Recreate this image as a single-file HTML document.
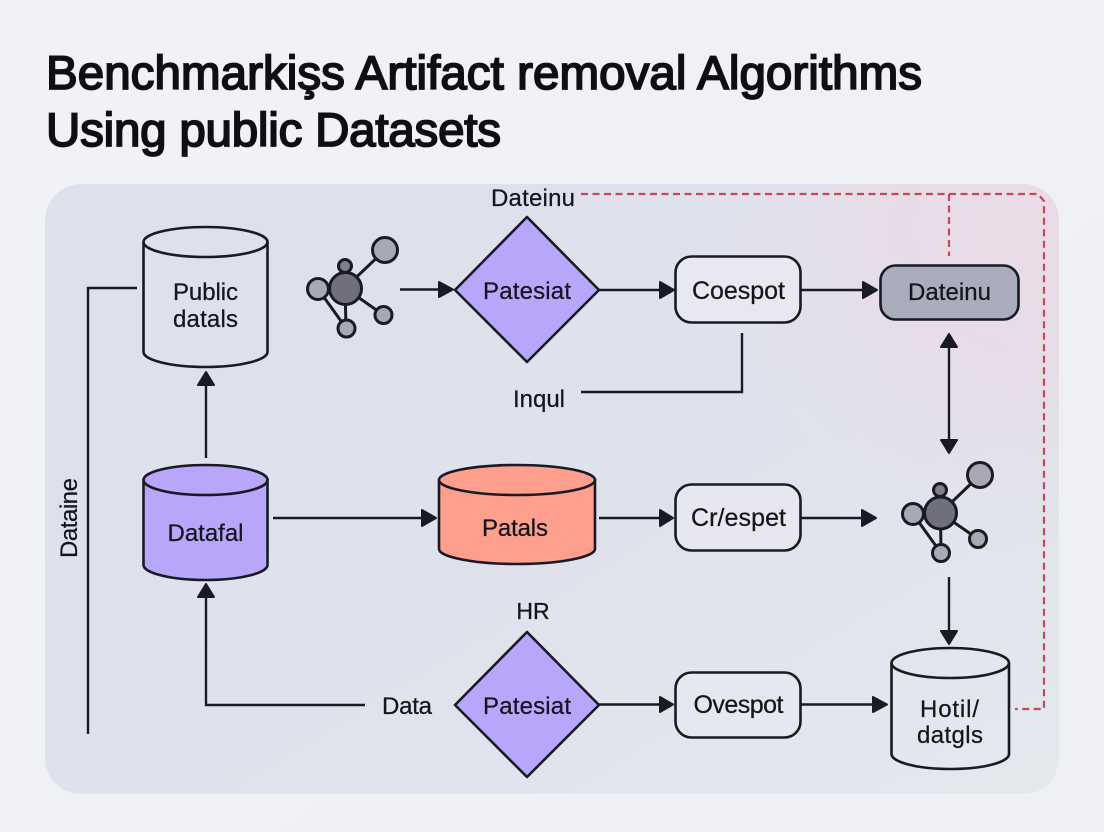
<!DOCTYPE html>
<html lang="en">
<head>
<meta charset="utf-8">
<title>Benchmarking Artifact Removal Algorithms</title>
<style>
html,body{margin:0;padding:0;width:1104px;height:832px;overflow:hidden;background:#eff1f5}
svg{display:block}
text{font-family:"Liberation Sans",sans-serif;fill:#15151f}
.t{font-size:47.5px;font-weight:400;fill:#0e0e14;stroke:#0e0e14;stroke-width:1.8}
.l{font-size:24px;text-anchor:middle;stroke:#15151f;stroke-width:.25}
.w{font-size:25px}
.s{fill:none;stroke:#191a26;stroke-width:2.6;stroke-linejoin:round}
.c{fill:none;stroke:#191a26;stroke-width:2.4}
.h{fill:#191a26;stroke:#191a26;stroke-width:2;stroke-linejoin:round}
.d{fill:none;stroke:#c4475c;stroke-width:2.2;stroke-dasharray:7 4.500}
.n{stroke:#191a26;stroke-width:3}
</style>
</head>
<body>
<svg width="1104" height="832" viewBox="0 0 1104 832" xmlns="http://www.w3.org/2000/svg">
<defs>
<linearGradient id="bg" x1="0" y1="0" x2="1" y2="1">
<stop offset="0" stop-color="#f1f2f6"/><stop offset="1" stop-color="#eef0f4"/>
</linearGradient>
<linearGradient id="panel" x1="0" y1="0" x2="1" y2="1">
<stop offset="0" stop-color="#dee0eb"/><stop offset=".55" stop-color="#dfe2ec"/><stop offset="1" stop-color="#e5e8ed"/>
</linearGradient>
<radialGradient id="pink" gradientUnits="userSpaceOnUse" cx="1030" cy="230" r="320">
<stop offset="0" stop-color="#ebdbe7" stop-opacity="1"/><stop offset=".5" stop-color="#e7dce7" stop-opacity=".8"/><stop offset="1" stop-color="#e4e0ea" stop-opacity="0"/>
</radialGradient>
</defs>

<rect width="1104" height="832" fill="url(#bg)"/>
<rect x="45" y="184" width="1014" height="610" rx="36" fill="url(#panel)"/>
<rect x="45" y="184" width="1014" height="610" rx="36" fill="url(#pink)"/>

<text class="t" x="46" y="89" textLength="876" lengthAdjust="spacing">Benchmarkişs Artifact removal Algorithms</text>
<text class="t" x="46" y="146" textLength="455" lengthAdjust="spacing">Using public Datasets</text>

<!-- dashed red -->
<path class="d" d="M581 194H1038L1044 201V709H1015"/>
<path class="d" d="M949 194V256"/>

<!-- left line -->
<path class="c" d="M137 288H88V734"/>
<text class="l" transform="translate(77 518) rotate(-90)" textLength="80" lengthAdjust="spacing">Dataine</text>

<!-- Public datals -->
<path class="s" d="M143.500 242V352C143.500 360 171 367 205.500 367S267.500 360 267.500 352V242"/>
<ellipse class="s" cx="205.500" cy="242" rx="62" ry="15"/>
<text class="l" x="205.500" y="300" textLength="65" lengthAdjust="spacing">Public</text>
<text class="l" x="205.500" y="327" textLength="65" lengthAdjust="spacing">datals</text>

<!-- Network 1 -->
<g class="n">
<path d="M345 288L385 250M345 288L383.500 315M318 289L346 328M345 288L346 328" fill="none"/>
<circle cx="385" cy="250" r="12.500" fill="#a9a9b5"/>
<circle cx="345" cy="266" r="6.500" fill="#80808c"/>
<circle cx="383.500" cy="315" r="8.500" fill="#a9a9b5"/>
<circle cx="346.500" cy="328.500" r="8.500" fill="#a9a9b5"/>
<circle cx="318" cy="289" r="10.500" fill="#a9a9b5"/>
<circle cx="345.500" cy="288.500" r="16" fill="#6f707c"/>
</g>

<!-- Row 1 -->
<path class="c" d="M400 289.500H440"/>
<path class="h" d="M453 289.500L439 282V297Z"/>
<polygon class="s" points="527,217 599,290 527,362 455,290" style="fill:#b8a6fb"/>
<text class="l" x="527" y="299" textLength="88" lengthAdjust="spacing">Patesiat</text>
<text class="l" x="533" y="206" textLength="84" lengthAdjust="spacing">Dateinu</text>
<path class="c" d="M599 290H660"/>
<path class="h" d="M674 290L660 282V298Z"/>
<rect class="s" x="675.500" y="256.500" width="125" height="66" rx="16" style="fill:#e8e8f0"/>
<text class="l w" x="738.500" y="299" textLength="93" lengthAdjust="spacing">Coespot</text>
<path class="c" d="M801 290H864"/>
<path class="h" d="M877 290L863 282V298Z"/>
<rect class="s" x="880.500" y="265.500" width="138" height="54" rx="15" style="fill:#a9acba"/>
<text class="l" x="949.500" y="300" textLength="83" lengthAdjust="spacing">Dateinu</text>

<!-- Inqul -->
<path class="c" d="M742 333V392H581"/>
<text class="l" x="539" y="407" textLength="52" lengthAdjust="spacing">Inqul</text>

<!-- Double arrow -->
<path class="c" d="M949 346V442"/>
<path class="h" d="M949 334L941 347H957Z"/>
<path class="h" d="M949 453L941 440H957Z"/>

<!-- Datafal -> Public -->
<path class="c" d="M206 458V384"/>
<path class="h" d="M206 372L198 385H214Z"/>

<!-- Datafal -->
<path d="M143.500 480V565C143.500 573 171 580 205.500 580S267.500 573 267.500 565V480Z" fill="#b8a6fb" stroke="#191a26" stroke-width="2.600"/>
<ellipse class="s" cx="205.500" cy="480" rx="62" ry="15" style="fill:#b8a6fb"/>
<text class="l" x="205.500" y="541" textLength="76" lengthAdjust="spacing">Datafal</text>

<!-- row 2 -->
<path class="c" d="M273 518H424"/>
<path class="h" d="M436 518L422 510V526Z"/>
<path d="M439 480V549C439 557 474 564 517 564S595 557 595 549V480Z" fill="#fd9f8c" stroke="#191a26" stroke-width="2.600"/>
<ellipse class="s" cx="517" cy="480" rx="78" ry="15" style="fill:#fd9f8c"/>
<text class="l" x="515" y="536" textLength="66" lengthAdjust="spacing">Patals</text>
<path class="c" d="M599 518H660"/>
<path class="h" d="M673 518L660 510V526Z"/>
<rect class="s" x="675.500" y="484.500" width="125" height="66" rx="16" style="fill:#e6e7ef"/>
<text class="l w" x="738.500" y="526" textLength="95" lengthAdjust="spacing">Cr/espet</text>
<path class="c" d="M801 518H864"/>
<path class="h" d="M876 518L862 510V526Z"/>

<!-- Network 2 -->
<g class="n">
<path d="M940.500 513L980 475M940.500 513L978 539M913 514L941 553M940.500 513L941 553" fill="none"/>
<circle cx="980" cy="475" r="12.500" fill="#a9a9b5"/>
<circle cx="940" cy="490" r="6.500" fill="#80808c"/>
<circle cx="978" cy="539" r="8.500" fill="#a9a9b5"/>
<circle cx="941" cy="553" r="8.500" fill="#a9a9b5"/>
<circle cx="913" cy="514" r="10.500" fill="#a9a9b5"/>
<circle cx="940.500" cy="513" r="16" fill="#6f707c"/>
</g>

<!-- down arrow -->
<path class="c" d="M949 577V632"/>
<path class="h" d="M949 644L941 631H957Z"/>

<!-- Row 3 -->
<path class="c" d="M365 705H206V596"/>
<path class="h" d="M206 584L198 597H214Z"/>
<text class="l" x="407" y="714" textLength="50" lengthAdjust="spacing">Data</text>
<text class="l" x="533" y="619" style="font-size:23px">HR</text>
<polygon class="s" points="527,632 599,705 527,777 455,705" style="fill:#b8a6fb"/>
<text class="l" x="527" y="714" textLength="88" lengthAdjust="spacing">Patesiat</text>
<path class="c" d="M599 704.500H660"/>
<path class="h" d="M673 704.500L660 697V712Z"/>
<rect class="s" x="675.500" y="672.500" width="125" height="65" rx="16" style="fill:#e6e8f0"/>
<text class="l w" x="738.500" y="713" textLength="90" lengthAdjust="spacing">Ovespot</text>
<path class="c" d="M801 704.500H875"/>
<path class="h" d="M887 704.500L873 697V712Z"/>

<!-- Hotil -->
<path class="s" d="M891.500 663V754C891.500 762 917 769 950.500 769S1009 762 1009 754V663"/>
<ellipse class="s" cx="950.250" cy="663" rx="58.750" ry="15"/>
<text class="l" x="949.500" y="717" textLength="59" lengthAdjust="spacing">Hotil/</text>
<text class="l" x="950" y="743" textLength="66" lengthAdjust="spacing">datgls</text>
</svg>
</body>
</html>
